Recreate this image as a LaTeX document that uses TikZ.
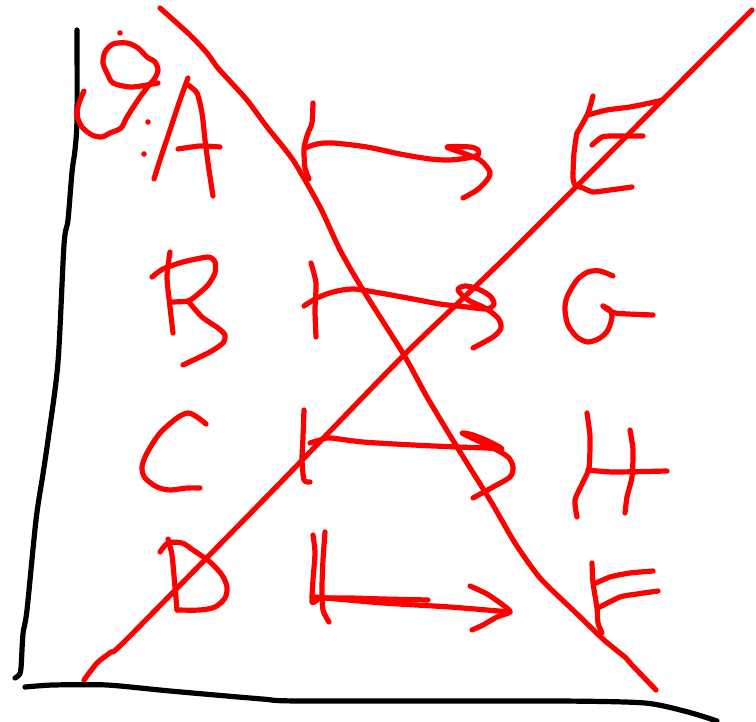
\documentclass[tikz,border=0pt]{standalone}
\begin{document}
\begin{tikzpicture}[x=1pt,y=-1pt,
  ink/.style={line width=5.2pt,line cap=round,line join=round},
  redink/.style={ink,draw={rgb,255:red,255;green,0;blue,0}},
  blackink/.style={ink,draw=black},
  dotink/.style={fill={rgb,255:red,255;green,0;blue,0}}]
\useasboundingbox (0,0) rectangle (756,722);
\fill[white] (0,0) rectangle (756,722);
% axes
\draw[blackink] plot[smooth,tension=0.5] coordinates {(77,30) (77,118) (75,150) (72,172) (68,220) (64,245) (58,362) (49,433) (43,474) (36,520) (27,610) (23,634) (21,668) (19,675) (15,678)};
\draw[blackink] plot[smooth,tension=0.4] coordinates {(25,687) (53,685) (107,685) (170,691) (262,699) (300,701) (557,701) (645,703) (688,712) (717,721)};
% big diagonals
\draw[redink] plot[smooth,tension=0.4] coordinates {(160,8) (190,35) (207,53) (217,67) (227,78) (247,100) (267,127) (293,160) (320,207) (340,250) (363,290) (404,355) (427,397) (457,447) (490,500) (515,543) (540,578) (575,612) (604,640) (626,658) (632,665) (656,690)};
\draw[redink] plot[smooth,tension=0.4] coordinates {(84,680) (97,663) (111,652) (126,640) (280,483) (404,355) (513,250) (752,10)};
% 9 and dots
\draw[redink] plot[smooth,tension=0.5] coordinates {(158,83) (147,85) (130,87) (113,83) (107,73) (103,63) (105,52) (113,44) (127,43) (138,48) (147,57) (155,62) (158,70) (155,78) (150,84) (140,97) (127,117) (121,128) (110,133) (102,137) (92,135) (82,127) (77,115) (79,103) (84,91)};
\fill[dotink] (120,33) circle (2.8);
\fill[dotink] (148,122) circle (2.8);
\fill[dotink] (144,154) circle (2.8);
% A
\draw[redink] plot[smooth,tension=0.4] coordinates {(154,179) (160,160) (170,130) (180,100) (188,78)};
\draw[redink] plot[smooth,tension=0.4] coordinates {(188,85) (197,93) (202,113) (205,140) (209,170) (213,196)};
\draw[redink] plot[smooth,tension=0.4] coordinates {(178,149) (200,146) (220,147)};
% B
\draw[redink] plot[smooth,tension=0.4] coordinates {(170,252) (167,277) (170,307) (173,333)};
\draw[redink] plot[smooth,tension=0.4] coordinates {(152,277) (163,269) (183,262) (208,257) (215,262) (215,273) (208,285) (197,295) (188,301) (172,302)};
\draw[redink] plot[smooth,tension=0.4] coordinates {(188,301) (202,317) (218,328) (225,335) (223,343) (210,352) (183,365)};
% C
\draw[redink] plot[smooth,tension=0.5] coordinates {(206,424) (197,417) (188,413) (177,418) (160,433) (147,453) (142,467) (145,478) (157,487) (170,490) (187,488) (200,488)};
% D
\draw[redink] plot[smooth,tension=0.4] coordinates {(168,539) (172,555) (175,587) (177,610)};
\draw[redink] plot[smooth,tension=0.5] coordinates {(160,552) (168,543) (182,543) (193,550) (210,562) (222,575) (227,587) (225,598) (215,607) (200,610) (177,610)};
% arrow A -> E
\draw[redink] plot[smooth,tension=0.4] coordinates {(313,103) (312,123) (308,133) (304,148) (305,168) (309,179)};
\draw[redink] plot[smooth,tension=0.5] coordinates {(305,148) (317,144) (333,143) (367,147) (400,154) (430,159) (450,160) (467,158) (478,155) (478,150) (470,147) (447,147) (460,152) (480,160) (490,172) (487,180) (477,190) (463,198)};
% arrow B -> G
\draw[redink] plot[smooth,tension=0.4] coordinates {(311,263) (316,283) (315,310) (316,337)};
\draw[redink] plot[smooth,tension=0.5] coordinates {(304,306) (317,298) (333,292) (353,289) (380,293) (413,299) (440,304) (467,307) (487,309) (494,304) (490,296) (478,289) (465,286) (458,290) (468,300) (485,308) (498,318) (501,328) (493,337) (473,348)};
% arrow C -> H
\draw[redink] plot[smooth,tension=0.4] coordinates {(304,410) (303,437) (302,460) (304,480) (310,482)};
\draw[redink] plot[smooth,tension=0.5] coordinates {(310,443) (320,440) (330,438) (363,442) (413,445) (457,447) (487,448) (502,449) (490,442) (473,435) (462,433) (472,438) (493,448) (508,457) (513,467) (510,477) (493,487) (473,498)};
% arrow D -> F
\draw[redink] plot[smooth,tension=0.4] coordinates {(313,535) (315,553) (313,580) (312,602) (317,600)};
\draw[redink] plot[smooth,tension=0.4] coordinates {(325,532) (323,560) (322,587) (323,610) (329,622)};
\draw[redink] plot[smooth,tension=0.4] coordinates {(317,598) (350,598) (383,599) (428,600)};
\draw[redink] plot[smooth,tension=0.4] coordinates {(315,597) (383,603) (450,607) (510,612)};
\draw[redink] plot[smooth,tension=0.4] coordinates {(470,586) (487,594) (503,605) (510,612) (497,617) (483,625) (472,630)};
% E
\draw[redink] plot[smooth,tension=0.4] coordinates {(593,96) (588,113) (580,128) (577,133) (574,153) (573,177) (575,185) (583,188) (593,192) (610,190) (632,187)};
\draw[redink] plot[smooth,tension=0.4] coordinates {(588,115) (607,110) (630,107) (650,103) (663,100)};
\draw[redink] plot[smooth,tension=0.4] coordinates {(592,145) (602,137) (613,136) (643,136)};
% G
\draw[redink] plot[smooth,tension=0.5] coordinates {(613,276) (600,271) (588,272) (577,280) (567,297) (565,310) (568,325) (577,337) (588,342) (600,338) (608,330) (612,317) (610,310) (603,306)};
\draw[redink] plot[smooth,tension=0.4] coordinates {(603,306) (615,313) (653,315)};
% H
\draw[redink] plot[smooth,tension=0.4] coordinates {(587,413) (590,437) (589,468) (583,482) (575,500) (577,517)};
\draw[redink] plot[smooth,tension=0.4] coordinates {(630,430) (633,450) (632,477) (627,497) (625,513)};
\draw[redink] plot[smooth,tension=0.4] coordinates {(588,470) (613,472) (667,471)};
% F
\draw[redink] plot[smooth,tension=0.4] coordinates {(592,563) (593,583) (597,608) (598,623) (602,633)};
\draw[redink] plot[smooth,tension=0.4] coordinates {(594,584) (610,577) (630,573) (653,571)};
\draw[redink] plot[smooth,tension=0.4] coordinates {(598,608) (620,597) (637,594) (658,591)};
\end{tikzpicture}
\end{document}
